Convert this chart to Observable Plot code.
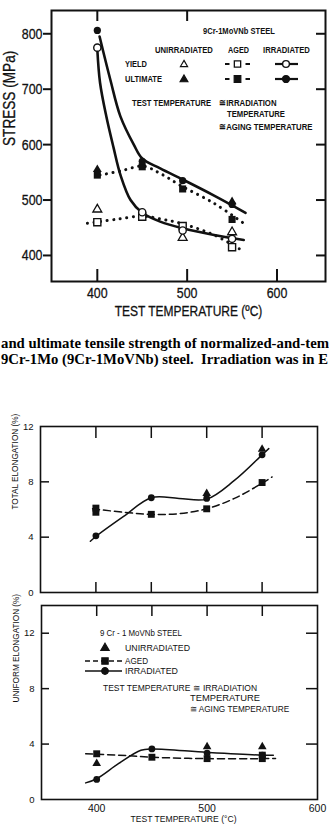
<!DOCTYPE html>
<html>
<head>
<meta charset="utf-8">
<script src="https://cdn.jsdelivr.net/npm/d3@7"></script>
<script src="https://cdn.jsdelivr.net/npm/@observablehq/plot@0.6"></script>
<style>
  html, body { margin: 0; padding: 0; background: #fff; }
  #page { position: relative; width: 329px; height: 829px; overflow: hidden; background: #fff; }
  #page svg { position: absolute; left: 0; }
</style>
</head>
<body>
<div id="page"></div>
<script>
// ---------- Strength of 9Cr-1MoVNb steel (MPa) ----------
const stressTemps = [400, 450, 495, 550];
const yieldUnirradiated    = [483, null, 432, 442];
const ultimateUnirradiated = [555, null, null, 497];
const yieldAged            = [460, 470, 453, 415];
const ultimateAged         = [545, 560, 520, 465];
const yieldIrradiated      = [775, 478, 445, 430];
const ultimateIrradiated   = [806, 570, 535, 492];

// hand-drawn trend curves
const ultIrrCurveT   = [402.5, 414.5, 425.7, 440.6, 450, 470, 495, 530, 565];
const ultIrrCurveS   = [795, 717, 651, 600, 575, 557, 537, 508, 477];
const yieldIrrCurveT = [400, 403, 410, 418, 426, 437, 450, 470, 495, 530, 563];
const yieldIrrCurveS = [772, 712, 651, 595, 544, 500, 477, 461, 449, 437, 428];
const ultAgedCurveT  = [403, 425, 451, 470, 493, 530, 563];
const ultAgedCurveS  = [545, 552, 561, 548, 526, 494, 458];
const yieldAgedCurveT = [389, 420, 450, 470, 493, 530, 558];
const yieldAgedCurveS = [458, 465, 471, 466, 458, 437, 412];

const stressTicks = [400, 500, 600, 700, 800];
const stressTempTicks = [400, 500, 600];
const stressTopTicks = [400, 500];

// ---------- Elongation (%) ----------
const elongTemps = [400, 450, 500, 550];
const totalUnirradiated = [null, null, 7.15, 10.35];
const totalAgedT = [400, 400, 450, 500, 550];
const totalAgedV = [6.1, 5.8, 5.65, 6.05, 7.95];
const totalIrradiated = [4.1, 6.85, 6.8, 9.95];

const totalIrrCurveT  = [395, 400, 425, 450, 475, 500, 525, 550, 556];
const totalIrrCurveV  = [3.7, 4.05, 5.5, 6.85, 6.8, 6.75, 8.1, 9.95, 10.4];
const totalAgedCurveT = [397, 425, 450, 475, 500, 525, 550, 559];
const totalAgedCurveV = [6.05, 5.8, 5.65, 5.7, 6.05, 6.8, 7.9, 8.35];

const uniformUnirradiated = [2.6, null, 3.8, 3.8];
const uniformAgedT = [400, 450, 500, 550, 550];
const uniformAgedV = [3.3, 3.05, 2.95, 2.95, 3.2];
const uniformIrradiated = [1.45, 3.65, 3.35, 3.2];

const uniIrrCurveT  = [390, 400, 420, 440, 450, 500, 550, 560];
const uniIrrCurveV  = [1.2, 1.5, 2.6, 3.55, 3.65, 3.4, 3.2, 3.2];
const uniAgedCurveT = [390, 420, 450, 500, 550, 562];
const uniAgedCurveV = [3.3, 3.2, 3.05, 2.95, 2.95, 2.95];

const elongTempTicks = [400, 450, 500, 550];
const elongLabelTemps = [400, 500, 600];
const totalTicks = [0, 4, 8, 12];
const uniformTicks = [0, 4, 8, 12];

// ---------- text ----------
const captionLines = [
  "and ultimate tensile strength of normalized-and-tem",
  "9Cr-1Mo (9Cr-1MoVNb) steel.  Irradiation was in E"
];

const W = 329;
const ink = "#111";
const sans = "'Liberation Sans', Arial, Helvetica, sans-serif";
const serif = "'Liberation Serif', 'Times New Roman', serif";

const pts = (ts, vs) => ts.map((t, i) => ({t, v: vs[i]})).filter(d => d.v != null);
const blank = () => "";

const page = document.getElementById("page");

// squeeze the glyphs of every label in a chart to a condensed face
function condense(svg, k, bold) {
  d3.select(svg).selectAll("text").each(function () {
    const L = this.getComputedTextLength();
    if (L > 0) {
      this.setAttribute("textLength", (L * k).toFixed(2));
      this.setAttribute("lengthAdjust", "spacingAndGlyphs");
      if (bold) { this.setAttribute("stroke", ink); this.setAttribute("stroke-width", bold); }
    }
  });
}

// ---------- stress chart ----------
const stress = Plot.plot({
  width: W, height: 330,
  marginTop: 10, marginRight: 4, marginBottom: 49, marginLeft: 51,
  style: {fontFamily: sans, fontSize: "15px", color: ink, background: "transparent", overflow: "visible"},
  x: {domain: [349, 654]},
  y: {domain: [353, 842]},
  marks: [
    Plot.axisY({anchor: "left", ticks: stressTicks, tickSize: 8, tickPadding: 1, strokeWidth: 2, fontSize: 15.5, label: null}),
    Plot.axisY({anchor: "right", ticks: stressTicks, tickSize: 10, dx: -10, strokeWidth: 2, tickFormat: blank, label: null}),
    Plot.axisX({anchor: "top", ticks: stressTopTicks, tickSize: 10, dy: 10, strokeWidth: 2, tickFormat: blank, label: null}),
    Plot.axisX({anchor: "bottom", ticks: stressTempTicks, tickSize: 12, dy: -12, strokeWidth: 2, tickFormat: blank, label: null}),
    Plot.axisX({anchor: "bottom", ticks: stressTempTicks, tickSize: 0, tickPadding: 5, fontSize: 15.5, label: null}),
    Plot.frame({stroke: ink, strokeWidth: 2}),
    // trend curves
    Plot.line(pts(ultIrrCurveT, ultIrrCurveS), {x: "t", y: "v", curve: "catmull-rom", stroke: ink, strokeWidth: 2.6}),
    Plot.line(pts(yieldIrrCurveT, yieldIrrCurveS), {x: "t", y: "v", curve: "catmull-rom", stroke: ink, strokeWidth: 2.6}),
    Plot.line(pts(ultAgedCurveT, ultAgedCurveS), {x: "t", y: "v", curve: "catmull-rom", stroke: ink, strokeWidth: 3, strokeDasharray: "0.1 6.5", strokeLinecap: "round"}),
    Plot.line(pts(yieldAgedCurveT, yieldAgedCurveS), {x: "t", y: "v", curve: "catmull-rom", stroke: ink, strokeWidth: 3, strokeDasharray: "0.1 6.5", strokeLinecap: "round"}),
    // measured points
    Plot.dot(pts(stressTemps, yieldAged), {x: "t", y: "v", symbol: "square", r: 4, fill: "white", stroke: ink, strokeWidth: 1.4}),
    Plot.dot(pts(stressTemps, ultimateAged), {x: "t", y: "v", symbol: "square", r: 4, fill: ink}),
    Plot.dot(pts(stressTemps, yieldUnirradiated), {x: "t", y: "v", symbol: "triangle", r: 3.3, fill: "white", stroke: ink, strokeWidth: 1.3}),
    Plot.dot(pts(stressTemps, ultimateUnirradiated), {x: "t", y: "v", symbol: "triangle", r: 3.3, fill: ink}),
    Plot.dot(pts(stressTemps, yieldIrradiated), {x: "t", y: "v", symbol: "circle", r: 3.6, fill: "white", stroke: ink, strokeWidth: 1.4}),
    Plot.dot(pts(stressTemps, ultimateIrradiated), {x: "t", y: "v", symbol: "circle", r: 3.6, fill: ink}),
    Plot.text(["STRESS (MPa)"], {frameAnchor: "left", dx: -42, rotate: -90, fontSize: 17, fill: ink}),
    Plot.text(["TEST TEMPERATURE (ºC)"], {frameAnchor: "bottom", dy: 34, fontSize: 15, fill: ink})
  ]
});
stress.style.top = "0px";
page.appendChild(stress);
condense(stress, 0.8, 0.3);

// ---------- total elongation ----------
const thin = {strokeWidth: 1.5, tickFormat: blank, label: null};
const total = Plot.plot({
  width: W, height: 200,
  marginTop: 26, marginRight: 12, marginBottom: 8, marginLeft: 40,
  style: {fontFamily: sans, fontSize: "9px", color: ink, background: "transparent", overflow: "visible"},
  x: {domain: [350, 600]},
  y: {domain: [0, 12]},
  marks: [
    Plot.axisY({anchor: "left", ticks: totalTicks, tickSize: 0, tickPadding: 7, fontSize: 9.5, label: null}),
    Plot.axisY({anchor: "left", ticks: [4, 8], tickSize: 9, dx: 9, ...thin}),
    Plot.axisY({anchor: "right", ticks: [4, 8], tickSize: 12, dx: -12, ...thin}),
    Plot.axisX({anchor: "top", ticks: elongTempTicks, tickSize: 11, dy: 11, ...thin}),
    Plot.axisX({anchor: "bottom", ticks: elongTempTicks, tickSize: 10, dy: -10, ...thin}),
    Plot.frame({stroke: ink, strokeWidth: 1.6}),
    Plot.line(pts(totalAgedCurveT, totalAgedCurveV), {x: "t", y: "v", curve: "catmull-rom", stroke: ink, strokeWidth: 1.5, strokeDasharray: "7 4"}),
    Plot.line(pts(totalIrrCurveT, totalIrrCurveV), {x: "t", y: "v", curve: "catmull-rom", stroke: ink, strokeWidth: 1.5}),
    Plot.dot(pts(totalAgedT, totalAgedV), {x: "t", y: "v", symbol: "square", r: 3.9, fill: ink}),
    Plot.dot(pts(elongTemps, totalIrradiated), {x: "t", y: "v", symbol: "circle", r: 3.4, fill: ink}),
    Plot.dot(pts(elongTemps, totalUnirradiated), {x: "t", y: "v", symbol: "triangle", r: 3.2, fill: ink}),
    Plot.text(["TOTAL ELONGATION (%)"], {frameAnchor: "left", dx: -25, rotate: -90, fontSize: 8.2, fill: ink})
  ]
});
total.style.top = "400px";
page.appendChild(total);

// ---------- uniform elongation ----------
const uniform = Plot.plot({
  width: W, height: 229,
  marginTop: 5, marginRight: 12, marginBottom: 30, marginLeft: 41,
  style: {fontFamily: sans, fontSize: "9px", color: ink, background: "transparent", overflow: "visible"},
  x: {domain: [350, 600]},
  y: {domain: [0, 14]},
  marks: [
    Plot.axisY({anchor: "left", ticks: uniformTicks, tickSize: 0, tickPadding: 7, fontSize: 9.5, label: null}),
    Plot.axisY({anchor: "left", ticks: [4, 8, 12], tickSize: 8, dx: 8, ...thin}),
    Plot.axisY({anchor: "right", ticks: [4, 8, 12], tickSize: 12, dx: -12, ...thin}),
    Plot.axisX({anchor: "top", ticks: elongTempTicks, tickSize: 10, dy: 10, ...thin}),
    Plot.axisX({anchor: "bottom", ticks: elongLabelTemps, tickSize: 0, tickPadding: 5, fontSize: 10.5, label: null}),
    Plot.frame({stroke: ink, strokeWidth: 1.6}),
    Plot.line(pts(uniAgedCurveT, uniAgedCurveV), {x: "t", y: "v", curve: "catmull-rom", stroke: ink, strokeWidth: 1.5, strokeDasharray: "7 4"}),
    Plot.line(pts(uniIrrCurveT, uniIrrCurveV), {x: "t", y: "v", curve: "catmull-rom", stroke: ink, strokeWidth: 1.5}),
    Plot.dot(pts(uniformAgedT, uniformAgedV), {x: "t", y: "v", symbol: "square", r: 3.9, fill: ink}),
    Plot.dot(pts(elongTemps, uniformIrradiated), {x: "t", y: "v", symbol: "circle", r: 3.4, fill: ink}),
    Plot.dot(pts(elongTemps, uniformUnirradiated), {x: "t", y: "v", symbol: "triangle", r: 3.2, fill: ink}),
    Plot.text(["UNIFORM ELONGATION (%)"], {frameAnchor: "left", dx: -25, rotate: -90, fontSize: 8.2, fill: ink}),
    Plot.text(["TEST TEMPERATURE (°C)"], {frameAnchor: "bottom", dx: 4, dy: 22, fontSize: 8.6, fill: ink})
  ]
});
uniform.style.top = "600px";
page.appendChild(uniform);

// ---------- legends and caption ----------
const over = d3.select(page).append("svg")
  .attr("width", W).attr("height", 829)
  .style("top", "0px").style("pointer-events", "none");

// a label whose glyphs are squeezed horizontally to span len pixels
function word(str, x, y, len, size, weight) {
  const t = over.append("text")
    .attr("transform", `translate(${x},${y})`)
    .attr("dominant-baseline", "central")
    .attr("font-family", sans).attr("font-size", size)
    .attr("font-weight", weight || "normal")
    .attr("fill", ink)
    .text(str);
  const L = t.node().getComputedTextLength();
  if (len && L > 0) t.attr("transform", `translate(${x},${y}) scale(${(len / L).toFixed(3)},1)`);
  return t;
}
function sym(type, x, y, size, filled, sw) {
  over.append("path")
    .attr("transform", `translate(${x},${y})`)
    .attr("d", d3.symbol(type, size)())
    .attr("fill", filled ? ink : "white")
    .attr("stroke", ink).attr("stroke-width", sw || 1.2);
}
function seg(x1, x2, y, width, dash) {
  over.append("line")
    .attr("x1", x1).attr("x2", x2).attr("y1", y).attr("y2", y)
    .attr("stroke", ink).attr("stroke-width", width)
    .attr("stroke-dasharray", dash || null);
}

// stress legend
const B = "bold";
word("9Cr-1MoVNb STEEL", 203, 31, 72, 9.5, B);
word("UNIRRADIATED", 155, 50, 58, 9.5, B);
word("AGED", 228, 50, 21, 9.5, B);
word("IRRADIATED", 263, 50, 47, 9.5, B);
word("YIELD", 125, 64, 22, 9.5, B);
word("ULTIMATE", 125, 79, 37, 9.5, B);
word("TEST TEMPERATURE", 132, 103, 79, 9.5, B);
word("≅IRRADIATION", 219, 103, 57, 9.5, B);
word("TEMPERATURE", 227, 114, 58, 9.5, B);
word("≅AGING TEMPERATURE", 219, 127, 93, 9.5, B);
sym(d3.symbolTriangle, 184, 64.5, 22, false, 1.2);
sym(d3.symbolTriangle, 184, 79.5, 26, true);
seg(225, 229.5, 64, 2); seg(245.5, 250, 64, 2);
sym(d3.symbolSquare, 237.5, 64, 40, false, 1.3);
seg(225, 229.5, 79, 2); seg(245.5, 250, 79, 2);
sym(d3.symbolSquare, 237.5, 79, 44, true);
seg(275, 298, 64, 2.2);
sym(d3.symbolCircle, 286, 64, 36, false, 1.4);
seg(275, 298, 79, 2.2);
sym(d3.symbolCircle, 286, 79, 38, true);

// caption
const captionWidths = [328, 327];
captionLines.forEach((line, i) => {
  over.append("text")
    .attr("x", 1).attr("y", 348 + i * 16)
    .attr("font-family", serif).attr("font-size", 14.8).attr("font-weight", "bold")
    .attr("fill", "#000")
    .attr("textLength", captionWidths[i]).attr("lengthAdjust", "spacingAndGlyphs")
    .style("white-space", "pre")
    .text(line);
});

// elongation legend
word("9 Cr - 1 MoVNb STEEL", 100, 633, 82, 8.7);
sym(d3.symbolTriangle, 105, 648, 30, true);
word("UNIRRADIATED", 125, 648, 65, 8.7);
seg(85, 122, 661, 1.4, "5 3");
sym(d3.symbolSquare, 105, 661, 40, true);
word("AGED", 125, 661, 23, 8.7);
seg(85, 122, 671, 1.4);
sym(d3.symbolCircle, 105, 671, 34, true);
word("IRRADIATED", 125, 671, 53, 8.7);
word("TEST TEMPERATURE ≅ IRRADIATION", 103, 688, 154, 8.7);
word("TEMPERATURE", 190, 698, 70, 8.7);
word("≅ AGING TEMPERATURE", 190, 709, 100, 8.7);
</script>
</body>
</html>
